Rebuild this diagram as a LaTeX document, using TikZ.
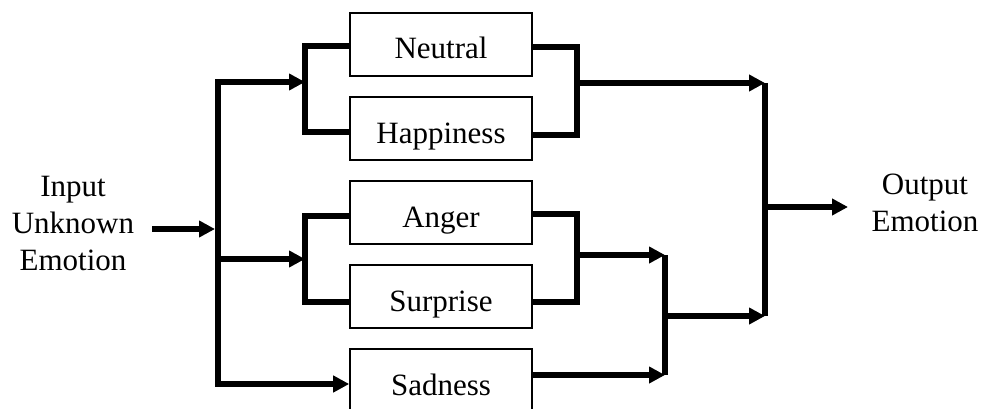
\documentclass[tikz,border=0pt]{standalone}
\usepackage{fontspec}
\setmainfont{Liberation Serif}
\usetikzlibrary{arrows.meta}
\begin{document}
\begin{tikzpicture}[x=1pt,y=-1pt,
  every node/.style={font=\fontsize{31}{37}\selectfont},
  emobox/.style={draw, line width=1.6pt, minimum width=182pt, minimum height=63pt, inner sep=0pt, text height=29pt, text depth=0pt},
  txt/.style={align=center, inner sep=0pt},
  wire/.style={line width=5.5pt, line join=miter},
  arr/.style={wire, -{Triangle[length=16pt,width=16pt]}}]
\useasboundingbox (0,0) rectangle (984,409);
% boxes
\node[emobox] (neu) at (441,44.5) {Neutral};
\node[emobox] (hap) at (441,128.5) {Happiness};
\node[emobox] (ang) at (441,212.5) {Anger};
\node[emobox] (sur) at (441,296.5) {Surprise};
\node[emobox] (sad) at (441,380.5) {Sadness};
% texts
\node[txt] (inp) at (73,223) {Input\\Unknown\\Emotion};
\node[txt] (outp) at (925,203) {Output\\Emotion};
% junction coordinates
\coordinate (inStart) at (152,229);
\coordinate (inEnd) at (215,229);
\coordinate (busTop) at (218,82);
\coordinate (busMid) at (218,259);
\coordinate (busBot) at (218,384);
\coordinate (jL1) at (305,82);
\coordinate (jL2) at (305,259);
\coordinate (jR1) at (577,83);
\coordinate (jR2) at (577,255);
\coordinate (m2t) at (665,255);
\coordinate (m2c) at (665,316);
\coordinate (m2b) at (665,375);
\coordinate (r3t) at (765,83);
\coordinate (r3c) at (765,207);
\coordinate (r3b) at (765,316);
\coordinate (outEnd) at (848,207);
% input side
\draw[arr] (inStart) -- (inEnd);
\draw[wire, {Triangle[length=16pt,width=16pt]}-{Triangle[length=16pt,width=16pt]}]
  (jL1) -- (busTop) -- (busBot) -- (sad.west |- busBot);
\draw[arr] (busMid) -- (jL2);
\draw[wire] ([yshift=-1.5pt]neu.west) -- ([yshift=-1.5pt]neu.west -| jL1)
  -- ([yshift=-3.5pt]hap.west -| jL1) -- ([yshift=-3.5pt]hap.west);
\draw[wire] ([yshift=-3.5pt]ang.west) -- ([yshift=-3.5pt]ang.west -| jL2)
  -- ([yshift=-5.5pt]sur.west -| jL2) -- ([yshift=-5.5pt]sur.west);
% output side
\draw[wire] ([yshift=-2.5pt]neu.east) -- ([yshift=-2.5pt]neu.east -| jR1)
  -- ([yshift=-6.5pt]hap.east -| jR1) -- ([yshift=-6.5pt]hap.east);
\draw[wire] ([yshift=-1.5pt]ang.east) -- ([yshift=-1.5pt]ang.east -| jR2)
  -- ([yshift=-5.5pt]sur.east -| jR2) -- ([yshift=-5.5pt]sur.east);
\draw[arr] (jR1) -- (r3t);
\draw[arr] (jR2) -- (m2t);
\draw[arr] (sad.east |- m2b) -- (m2b);
\draw[wire] (m2t) -- (m2b);
\draw[arr] (m2c) -- (r3b);
\draw[wire] (r3t) -- (r3b);
\draw[arr] (r3c) -- (outEnd);
\end{tikzpicture}
\end{document}
